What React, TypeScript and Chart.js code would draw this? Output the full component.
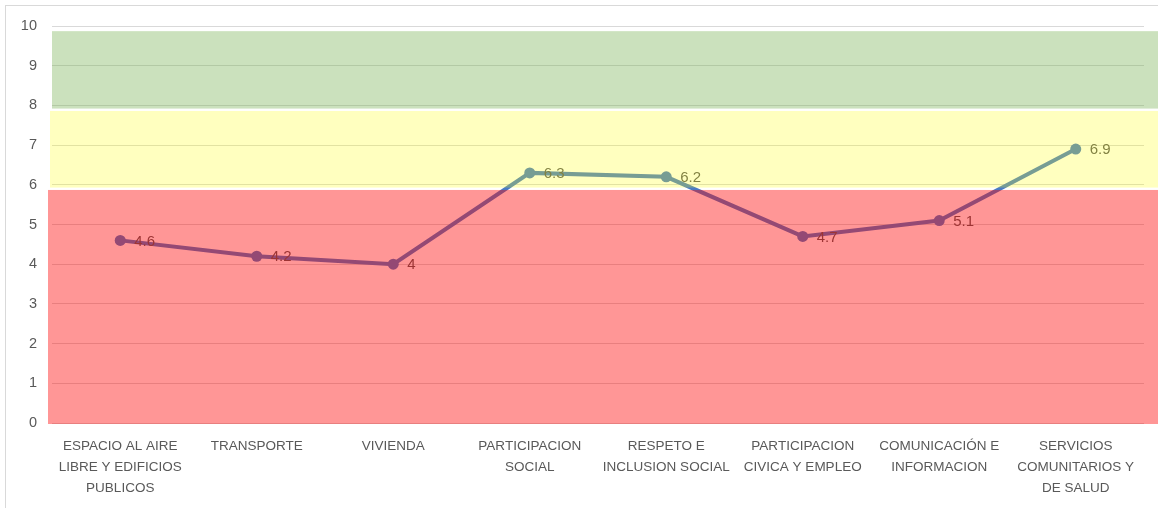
import React, { useEffect, useRef } from "react";
import { Chart, registerables } from "chart.js";

Chart.register(...registerables);

const categories: string[][] = [
  ["ESPACIO AL AIRE", "LIBRE Y EDIFICIOS", "PUBLICOS"],
  ["TRANSPORTE"],
  ["VIVIENDA"],
  ["PARTICIPACION", "SOCIAL"],
  ["RESPETO E", "INCLUSION SOCIAL"],
  ["PARTICIPACION", "CIVICA Y EMPLEO"],
  ["COMUNICACIÓN E", "INFORMACION"],
  ["SERVICIOS", "COMUNITARIOS Y", "DE SALUD"],
];
const values: number[] = [4.6, 4.2, 4.0, 6.3, 6.2, 4.7, 5.1, 6.9];
const yTicks: number[] = [0, 1, 2, 3, 4, 5, 6, 7, 8, 9, 10];
// Background zones: [low, high]
const zoneRed: number[] = [0, 5.87];
const zoneYellow: number[] = [5.93, 7.86];
const zoneGreen: number[] = [7.92, 9.87];

const FONT = "'Liberation Sans', Arial, sans-serif";

export default function App() {
  const ref = useRef<HTMLCanvasElement | null>(null);

  useEffect(() => {
    document.body.style.margin = "0";
    const canvas = ref.current!;
    const overlay = {
      id: "overlay",
      beforeDraw(chart: any) {
        const ctx = chart.ctx;
        ctx.save();
        ctx.fillStyle = "#ffffff";
        ctx.fillRect(0, 0, chart.width, chart.height);
        ctx.strokeStyle = "#d9d9d9";
        ctx.lineWidth = 1;
        ctx.strokeRect(5.5, 5.5, chart.width + 20, chart.height + 20);
        ctx.restore();
      },
      afterDatasetsDraw(chart: any) {
        const ctx = chart.ctx;
        const y = chart.scales.y;
        const meta = chart.getDatasetMeta(0);
        ctx.save();
        ctx.font = `15px ${FONT}`;
        ctx.fillStyle = "#595959";
        ctx.textBaseline = "middle";
        ctx.textAlign = "left";
        meta.data.forEach((pt: any, i: number) => {
          ctx.fillText(String(values[i]), pt.x + 14, pt.y + 1);
        });
        const zones: [number[], string, number][] = [
          [zoneRed, "rgba(255,0,0,0.41)", chart.chartArea.left - 4],
          [zoneYellow, "rgba(255,255,0,0.25)", chart.chartArea.left - 2],
          [zoneGreen, "rgba(112,173,71,0.36)", chart.chartArea.left],
        ];
        zones.forEach(([z, c, x0]) => {
          const top = y.getPixelForValue(z[1]);
          const bot = y.getPixelForValue(z[0]) + (z[0] === 0 ? 1 : 0);
          ctx.fillStyle = c;
          ctx.fillRect(x0, top, chart.width - x0, bot - top);
        });
        ctx.restore();
      },
    };

    const chart = new Chart(canvas, {
      type: "line",
      data: {
        labels: categories,
        datasets: [
          {
            data: values,
            borderColor: "#4A7CC6",
            backgroundColor: "#4A7CC6",
            borderWidth: 4,
            pointRadius: 5.5,
            pointHoverRadius: 5.5,
            pointBorderWidth: 0,
            tension: 0,
          },
        ],
      },
      options: {
        animation: false,
        responsive: false,
        events: [],
        layout: { padding: { top: 26, right: 14, left: 0, bottom: 0 } },
        plugins: { legend: { display: false }, tooltip: { enabled: false } },
        scales: {
          x: {
            offset: true,
            grid: { display: false, drawTicks: false },
            border: { display: false },
            ticks: {
              color: "#595959",
              font: { family: FONT, size: 13.5, lineHeight: 1.55 },
              maxRotation: 0,
              autoSkip: false,
              padding: 13,
            },
            afterFit(scale: any) {
              scale.height = 85;
            },
          },
          y: {
            min: 0,
            max: 10,
            afterBuildTicks(scale: any) {
              scale.ticks = yTicks.map((v) => ({ value: v }));
            },
            grid: { color: "#d9d9d9", lineWidth: 1, drawTicks: false },
            border: { display: false },
            ticks: {
              color: "#595959",
              font: { family: FONT, size: 14.5 },
              padding: 15,
            },
            afterFit(scale: any) {
              scale.width = 52;
            },
          },
        },
      },
      plugins: [overlay],
    });
    return () => chart.destroy();
  }, []);

  return <canvas ref={ref} width={1158} height={508} style={{ display: "block" }} />;
}
